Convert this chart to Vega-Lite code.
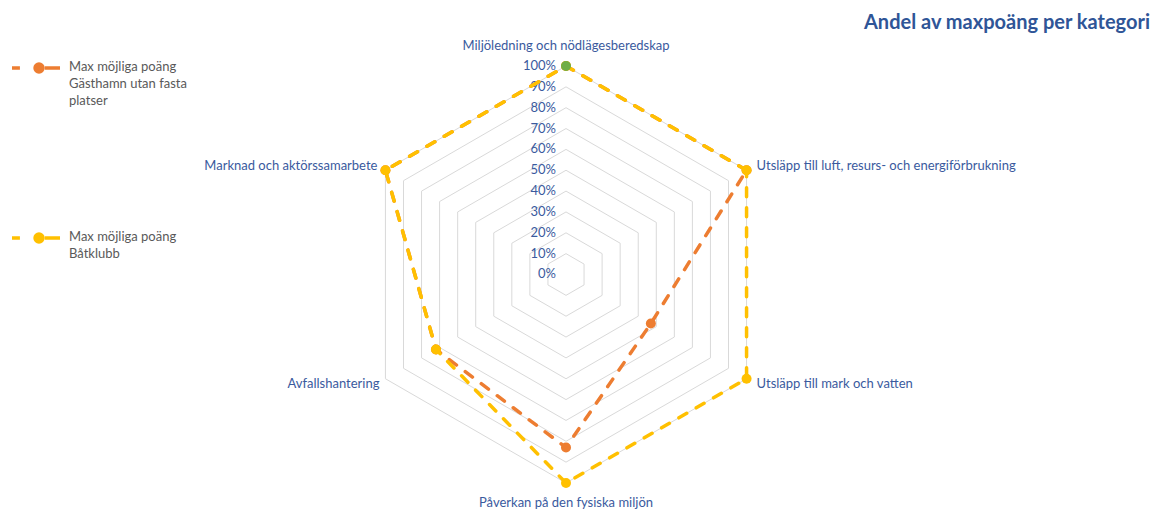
{
  "$schema": "https://vega.github.io/schema/vega-lite/v6.json",
  "width": 1158,
  "height": 475,
  "autosize": {"type": "none"},
  "padding": {"left": 0, "right": 0, "top": 35, "bottom": 0},
  "background": "white",
  "config": {"view": {"stroke": null}, "font": "Lato"},
  "title": {"text": "Andel av maxpoäng per kategori", "anchor": "end", "frame": "group", "fontSize": 20, "fontWeight": "bold", "color": "#2F5597", "font": "Lato", "dx": -8, "offset": 2},
  "datasets": {
    "scores": [
      {"serie": "Max möjliga poäng Gästhamn utan fasta platser", "kategori": "Miljöledning och nödlägesberedskap", "k": 0, "andel": 1.0},
      {"serie": "Max möjliga poäng Gästhamn utan fasta platser", "kategori": "Utsläpp till luft, resurs- och energiförbrukning", "k": 1, "andel": 1.0},
      {"serie": "Max möjliga poäng Gästhamn utan fasta platser", "kategori": "Utsläpp till mark och vatten", "k": 2, "andel": 0.47},
      {"serie": "Max möjliga poäng Gästhamn utan fasta platser", "kategori": "Påverkan på den fysiska miljön", "k": 3, "andel": 0.83},
      {"serie": "Max möjliga poäng Gästhamn utan fasta platser", "kategori": "Avfallshantering", "k": 4, "andel": 0.72},
      {"serie": "Max möjliga poäng Gästhamn utan fasta platser", "kategori": "Marknad och aktörssamarbete", "k": 5, "andel": 1.0},
      {"serie": "Max möjliga poäng Båtklubb", "kategori": "Miljöledning och nödlägesberedskap", "k": 0, "andel": 1.0},
      {"serie": "Max möjliga poäng Båtklubb", "kategori": "Utsläpp till luft, resurs- och energiförbrukning", "k": 1, "andel": 1.0},
      {"serie": "Max möjliga poäng Båtklubb", "kategori": "Utsläpp till mark och vatten", "k": 2, "andel": 1.0},
      {"serie": "Max möjliga poäng Båtklubb", "kategori": "Påverkan på den fysiska miljön", "k": 3, "andel": 1.0},
      {"serie": "Max möjliga poäng Båtklubb", "kategori": "Avfallshantering", "k": 4, "andel": 0.72},
      {"serie": "Max möjliga poäng Båtklubb", "kategori": "Marknad och aktörssamarbete", "k": 5, "andel": 1.0}
    ],
    "categories": [
      {"kategori": "Miljöledning och nödlägesberedskap", "k": 0},
      {"kategori": "Utsläpp till luft, resurs- och energiförbrukning", "k": 1},
      {"kategori": "Utsläpp till mark och vatten", "k": 2},
      {"kategori": "Påverkan på den fysiska miljön", "k": 3},
      {"kategori": "Avfallshantering", "k": 4},
      {"kategori": "Marknad och aktörssamarbete", "k": 5}
    ],
    "levels": [
      {"level": 0}, {"level": 0.1}, {"level": 0.2}, {"level": 0.3}, {"level": 0.4}, {"level": 0.5},
      {"level": 0.6}, {"level": 0.7}, {"level": 0.8}, {"level": 0.9}, {"level": 1.0}
    ]
  },
  "layer": [
    {
      "data": {"name": "levels"},
      "transform": [
        {"filter": "datum.level > 0"},
        {"calculate": "[0,1,2,3,4,5]", "as": "ks"},
        {"flatten": ["ks"]},
        {"calculate": "datum.level * sin(datum.ks * PI / 3)", "as": "gx"},
        {"calculate": "datum.level * cos(datum.ks * PI / 3)", "as": "gy"}
      ],
      "mark": {"type": "line", "interpolate": "linear-closed", "color": "#D9D9D9", "strokeWidth": 1},
      "encoding": {
        "x": {"field": "gx", "type": "quantitative", "scale": {"domain": [-2.71463, 2.83933], "nice": false, "zero": false}, "axis": null},
        "y": {"field": "gy", "type": "quantitative", "scale": {"domain": [-1.1295, 1.14868], "nice": false, "zero": false}, "axis": null},
        "detail": {"field": "level", "type": "nominal"},
        "order": {"field": "ks", "type": "quantitative"}
      }
    },
    {
      "data": {"name": "levels"},
      "mark": {"type": "text", "align": "right", "baseline": "middle", "dx": -10, "fontSize": 13, "color": "#3A5A9E", "font": "Lato"},
      "encoding": {
        "x": {"datum": 0, "type": "quantitative"},
        "y": {"field": "level", "type": "quantitative"},
        "text": {"field": "level", "type": "quantitative", "format": ".0%"}
      }
    },
    {
      "data": {"name": "scores"},
      "transform": [
        {"filter": "indexof(datum.serie, 'Gästhamn') >= 0"},
        {"calculate": "datum.andel * sin(datum.k * PI / 3)", "as": "px"},
        {"calculate": "datum.andel * cos(datum.k * PI / 3)", "as": "py"},
        {"calculate": "(7 - datum.k) % 6", "as": "ord"}
      ],
      "layer": [
        {
          "mark": {"type": "line", "interpolate": "linear-closed", "strokeWidth": 3.5, "strokeDash": [9, 11], "strokeCap": "round"},
          "encoding": {
            "x": {"field": "px", "type": "quantitative"},
            "y": {"field": "py", "type": "quantitative"},
            "color": {
              "field": "serie",
              "type": "nominal",
              "scale": {"domain": ["Max möjliga poäng Gästhamn utan fasta platser", "Max möjliga poäng Båtklubb"], "range": ["#ED7D31", "#FFC000"]},
              "legend": {
                "title": null,
                "orient": "none",
                "legendX": 10,
                "legendY": 7,
                "direction": "vertical",
                "padding": 0,
                "symbolType": "M-1,0L-0.67,0M0.37,0L1,0M-0.04,0A0.165,0.165,0,1,1,0.29,0A0.165,0.165,0,1,1,-0.04,0Z",
                "symbolSize": 2304,
                "symbolStrokeWidth": 3.5,
                "symbolOffset": 0,
                "labelOffset": 7,
                "labelFont": "Lato",
                "labelFontSize": 13,
                "labelColor": "#595959",
                "labelLimit": 0,
                "labelBaseline": "top",
                "rowPadding": 104,
                "labelExpr": "indexof(datum.label, 'Gästhamn') >= 0 ? ['Max möjliga poäng', 'Gästhamn utan fasta', 'platser'] : ['Max möjliga poäng', 'Båtklubb']",
                "encode": {
                  "symbols": {"update": {"fill": {"signal": "scale('color', datum.value)"}, "stroke": {"signal": "scale('color', datum.value)"}, "opacity": {"value": 1}}},
                  "labels": {"update": {"lineHeight": {"value": 17}, "dy": {"value": -7}}}
                }
              }
            },
            "order": {"field": "ord", "type": "quantitative"}
          }
        },
        {
          "mark": {"type": "point", "filled": true, "size": 100, "opacity": 1},
          "encoding": {
            "x": {"field": "px", "type": "quantitative"},
            "y": {"field": "py", "type": "quantitative"},
            "color": {"field": "serie", "type": "nominal"}
          }
        }
      ]
    },
    {
      "data": {"name": "scores"},
      "transform": [
        {"filter": "indexof(datum.serie, 'Båtklubb') >= 0"},
        {"calculate": "datum.andel * sin(datum.k * PI / 3)", "as": "px"},
        {"calculate": "datum.andel * cos(datum.k * PI / 3)", "as": "py"},
        {"calculate": "(7 - datum.k) % 6", "as": "ord"}
      ],
      "layer": [
        {
          "mark": {"type": "line", "interpolate": "linear-closed", "strokeWidth": 3.5, "strokeDash": [9, 11], "strokeCap": "round"},
          "encoding": {
            "x": {"field": "px", "type": "quantitative"},
            "y": {"field": "py", "type": "quantitative"},
            "color": {"field": "serie", "type": "nominal"},
            "order": {"field": "ord", "type": "quantitative"}
          }
        },
        {
          "mark": {"type": "point", "filled": true, "size": 100, "opacity": 1},
          "encoding": {
            "x": {"field": "px", "type": "quantitative"},
            "y": {"field": "py", "type": "quantitative"},
            "color": {"field": "serie", "type": "nominal"}
          }
        },
        {
          "transform": [{"filter": "datum.k == 0"}],
          "mark": {"type": "point", "filled": true, "size": 100, "opacity": 1, "color": "#70AD47"},
          "encoding": {
            "x": {"field": "px", "type": "quantitative"},
            "y": {"field": "py", "type": "quantitative"}
          }
        }
      ]
    },
    {
      "data": {"name": "categories"},
      "transform": [
        {"calculate": "sin(datum.k * PI / 3)", "as": "cx"},
        {"calculate": "cos(datum.k * PI / 3)", "as": "cy"}
      ],
      "layer": [
        {
          "transform": [{"filter": "datum.k == 0"}],
          "mark": {"type": "text", "align": "center", "baseline": "middle", "dy": -20, "fontSize": 13, "color": "#3A5A9E", "font": "Lato"},
          "encoding": {"x": {"field": "cx", "type": "quantitative"}, "y": {"field": "cy", "type": "quantitative"}, "text": {"field": "kategori"}}
        },
        {
          "transform": [{"filter": "datum.k == 1"}],
          "mark": {"type": "text", "align": "left", "baseline": "middle", "dx": 10, "dy": -4, "fontSize": 13, "color": "#3A5A9E", "font": "Lato"},
          "encoding": {"x": {"field": "cx", "type": "quantitative"}, "y": {"field": "cy", "type": "quantitative"}, "text": {"field": "kategori"}}
        },
        {
          "transform": [{"filter": "datum.k == 2"}],
          "mark": {"type": "text", "align": "left", "baseline": "middle", "dx": 10, "dy": 5, "fontSize": 13, "color": "#3A5A9E", "font": "Lato"},
          "encoding": {"x": {"field": "cx", "type": "quantitative"}, "y": {"field": "cy", "type": "quantitative"}, "text": {"field": "kategori"}}
        },
        {
          "transform": [{"filter": "datum.k == 3"}],
          "mark": {"type": "text", "align": "center", "baseline": "middle", "dy": 20, "fontSize": 13, "color": "#3A5A9E", "font": "Lato"},
          "encoding": {"x": {"field": "cx", "type": "quantitative"}, "y": {"field": "cy", "type": "quantitative"}, "text": {"field": "kategori"}}
        },
        {
          "transform": [{"filter": "datum.k == 4"}],
          "mark": {"type": "text", "align": "right", "baseline": "middle", "dx": -6, "dy": 5, "fontSize": 13, "color": "#3A5A9E", "font": "Lato"},
          "encoding": {"x": {"field": "cx", "type": "quantitative"}, "y": {"field": "cy", "type": "quantitative"}, "text": {"field": "kategori"}}
        },
        {
          "transform": [{"filter": "datum.k == 5"}],
          "mark": {"type": "text", "align": "right", "baseline": "middle", "dx": -8, "dy": -4, "fontSize": 13, "color": "#3A5A9E", "font": "Lato"},
          "encoding": {"x": {"field": "cx", "type": "quantitative"}, "y": {"field": "cy", "type": "quantitative"}, "text": {"field": "kategori"}}
        }
      ]
    }
  ],
  "resolve": {"scale": {"color": "shared"}}
}
